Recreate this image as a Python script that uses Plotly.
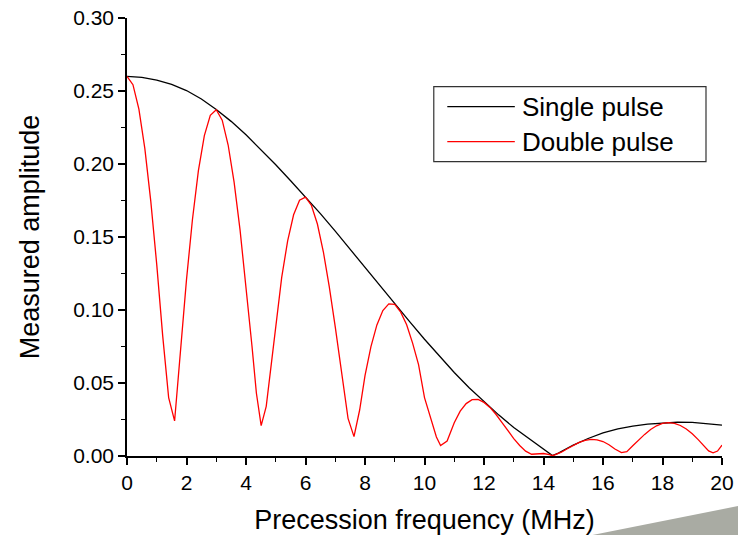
import plotly.graph_objects as go

# Single pulse spectrum
single_freq = [0, 0.5, 1, 1.5, 2, 2.5, 3, 3.5, 4, 4.5, 5, 5.5, 6, 6.5, 7, 7.5, 8, 8.5, 9, 9.5,
               10, 10.5, 11, 11.5, 12, 12.5, 13, 13.5, 14, 14.3, 14.5, 15, 15.5, 16, 16.5, 17,
               17.5, 18, 18.5, 19, 19.5, 20]
single_amp = [0.2600, 0.2594, 0.2575, 0.2545, 0.2503, 0.2445, 0.2373, 0.2292, 0.2200, 0.2100,
              0.1995, 0.1885, 0.1775, 0.1660, 0.1540, 0.1415, 0.1290, 0.1165, 0.1043, 0.0920,
              0.0800, 0.0685, 0.0572, 0.0467, 0.0370, 0.0280, 0.0195, 0.0120, 0.0045, 0.0003,
              0.0020, 0.0075, 0.0120, 0.0158, 0.0186, 0.0205, 0.0218, 0.0227, 0.0231, 0.0230,
              0.0223, 0.0212]

# Double pulse spectrum
double_freq = [0, 0.2, 0.4, 0.6, 0.8, 1.0, 1.2, 1.4, 1.6, 1.8,
               2.0, 2.2, 2.4, 2.6, 2.8, 3.0, 3.2, 3.4, 3.6, 3.8,
               4.0, 4.2, 4.35, 4.51, 4.68, 4.85, 5.0, 5.2, 5.4, 5.6,
               5.8, 6.0, 6.2, 6.4, 6.6, 6.8, 7.0, 7.2, 7.43, 7.63,
               7.82, 8.0, 8.2, 8.4, 8.6, 8.8, 9.0, 9.2, 9.4, 9.6,
               9.8, 10.0, 10.2, 10.4, 10.54, 10.76, 11.0, 11.2, 11.4, 11.6,
               11.8, 12.0, 12.2, 12.4, 12.6, 12.8, 13.0, 13.2, 13.4, 13.6,
               13.8, 14.0, 14.2, 14.3, 14.4, 14.6, 14.8, 15.0, 15.2, 15.4,
               15.6, 15.8, 16.0, 16.2, 16.4, 16.62, 16.8, 17.0, 17.2, 17.4,
               17.6, 17.8, 18.0, 18.2, 18.4, 18.6, 18.8, 19.0, 19.2, 19.4,
               19.55, 19.7, 19.85, 20.0]
double_amp = [0.2600, 0.2543, 0.2376, 0.2105, 0.1744, 0.1311, 0.0823, 0.0400, 0.0240, 0.0734,
              0.1208, 0.1620, 0.1955, 0.2195, 0.2333, 0.2372, 0.2300, 0.2130, 0.1876, 0.1549,
              0.1172, 0.0755, 0.0430, 0.0208, 0.0340, 0.0630, 0.0905, 0.1223, 0.1474, 0.1652,
              0.1752, 0.1773, 0.1716, 0.1589, 0.1399, 0.1159, 0.0884, 0.0587, 0.0258, 0.0133,
              0.0315, 0.0551, 0.0749, 0.0898, 0.0996, 0.1042, 0.1039, 0.0985, 0.0899, 0.0773,
              0.0626, 0.0400, 0.0260, 0.0130, 0.0071, 0.0103, 0.0228, 0.0307, 0.0359, 0.0386,
              0.0387, 0.0367, 0.0333, 0.0286, 0.0231, 0.0174, 0.0119, 0.0072, 0.0033, 0.0012,
              0.0013, 0.0017, 0.0009, 0.0002, 0.0009, 0.0026, 0.0050, 0.0074, 0.0093, 0.0107,
              0.0114, 0.0111, 0.0099, 0.0077, 0.0048, 0.0023, 0.0030, 0.0070, 0.0110, 0.0148,
              0.0181, 0.0207, 0.0223, 0.0229, 0.0224, 0.0209, 0.0185, 0.0152, 0.0112, 0.0068,
              0.0035, 0.0022, 0.0034, 0.0075]

series_names = ["Single pulse", "Double pulse"]
series_colors = ["black", "#ff0000"]

FONT = "Arial, Liberation Sans, sans-serif"

fig = go.Figure()
fig.add_trace(go.Scatter(x=single_freq, y=single_amp, mode="lines", name=series_names[0],
                         line={"color": series_colors[0], "width": 1.3}, showlegend=False))
fig.add_trace(go.Scatter(x=double_freq, y=double_amp, mode="lines", name=series_names[1],
                         line={"color": series_colors[1], "width": 1.3}, showlegend=False))

axis_common = dict(
    showline=True, linecolor="black", linewidth=1.6, showgrid=False, zeroline=False,
    ticks="outside", ticklen=7, tickwidth=1.6, tickcolor="black", automargin=False,
    ticklabeloverflow="allow",
    tickfont={"family": FONT, "size": 21, "color": "black"},
)
fig.update_xaxes(
    range=[0, 20], dtick=2, tick0=0,
    minor={"dtick": 1, "ticks": "outside", "ticklen": 4, "tickwidth": 1.4, "tickcolor": "black"},
    title={"text": "Precession frequency (MHz)", "font": {"family": FONT, "size": 27, "color": "black"},
           "standoff": 19},
    **axis_common,
)
fig.update_yaxes(
    range=[0, 0.30], dtick=0.05, tick0=0, tickformat=".2f",
    minor={"dtick": 0.025, "ticks": "outside", "ticklen": 4, "tickwidth": 1.4, "tickcolor": "black"},
    title={"text": "Measured amplitude", "font": {"family": FONT, "size": 27, "color": "black"},
           "standoff": 26},
    **axis_common,
)

# hand-drawn legend so the sample lines are long like the original
legend_y = [0.7977, 0.7177]
shapes = [
    dict(type="rect", xref="paper", yref="paper", x0=0.5156, x1=0.9731, y0=0.672, y1=0.8434,
         line={"color": "#333333", "width": 1.2}, fillcolor="white", layer="above"),
]
annotations = []
for name, color, ly in zip(series_names, series_colors, legend_y):
    shapes.append(dict(type="line", xref="paper", yref="paper", x0=0.5383, x1=0.6518, y0=ly, y1=ly,
                       line={"color": color, "width": 1.3}, layer="above"))
    annotations.append(dict(text=name, xref="paper", yref="paper", x=0.661, y=ly, xanchor="left",
                            yanchor="middle", showarrow=False,
                            font={"family": FONT, "size": 26, "color": "black"}))

# grey slide decoration at bottom right
shapes.append(dict(type="path", xref="paper", yref="paper",
                   path="M 0.78,-0.181 L 1.05,-0.108 L 1.05,-0.2 L 0.78,-0.2 Z",
                   line={"width": 0}, fillcolor="#a9aba3", layer="below"))

fig.update_layout(
    width=738, height=535,
    margin={"l": 127, "r": 16, "t": 18, "b": 79},
    paper_bgcolor="white", plot_bgcolor="white",
    shapes=shapes, annotations=annotations,
    showlegend=False,
)

# drop the browser's default body margin so the figure fills the window
fig.write_html("out.html", config={"displayModeBar": False},
               post_script="document.body.style.margin = '0px';")
